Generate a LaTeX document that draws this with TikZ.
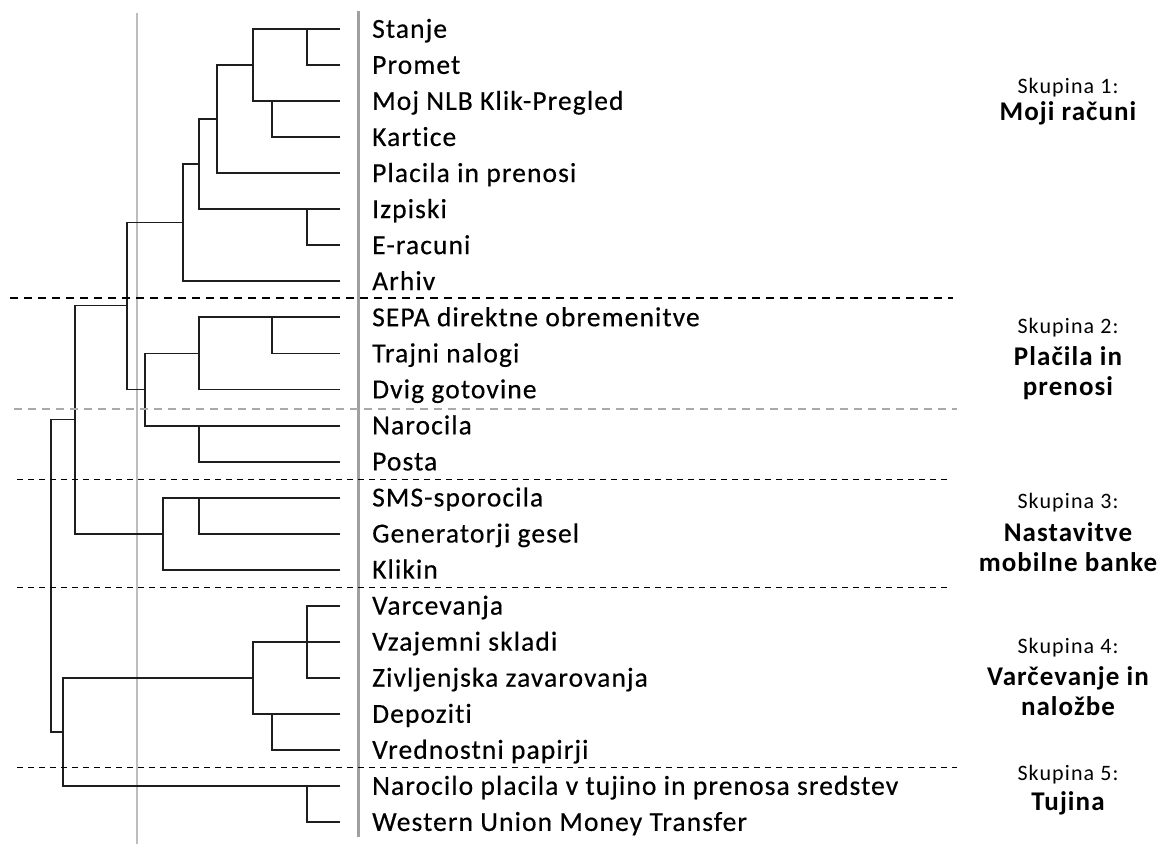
\documentclass[tikz,border=0pt]{standalone}
\usepackage{fontspec}
\setmainfont{Carlito}
\newfontfamily\skfont[LetterSpace=5,Ligatures=NoCommon]{Carlito}
\newfontfamily\leaffont[LetterSpace=4,Ligatures=NoCommon,FakeBold=0.4]{Carlito}
\newfontfamily\grpbfont[LetterSpace=4,Ligatures=NoCommon]{Carlito}
\definecolor{treecol}{HTML}{1E1E1E}
\definecolor{thickgray}{HTML}{A0A0A0}
\definecolor{thingray}{HTML}{BDBDBD}
\definecolor{dashgray}{HTML}{AAAAAA}
\begin{document}
\begin{tikzpicture}[x=1pt,y=-1pt,line cap=butt,
  tree/.style={draw=treecol,line width=1.9pt,line join=miter},
  leaf/.style={anchor=base west,inner sep=0pt,font=\leaffont\fontsize{27.5}{30}\selectfont},
  grp/.style={anchor=base,inner sep=0pt,font=\skfont\fontsize{22}{25}\selectfont},
  grpb/.style={anchor=base,inner sep=0pt,font=\grpbfont\bfseries\fontsize{27}{30}\selectfont},
  sepblack/.style={draw=black,line width=2pt,dash pattern=on 8pt off 6pt},
  septhin/.style={draw=black,line width=1.5pt,dash pattern=on 6pt off 5pt},
  sepgray/.style={draw=dashgray,line width=2pt,dash pattern=on 7.5pt off 6.5pt}]
\useasboundingbox (0,0) rectangle (1165,844);
% guide lines
\draw[draw=thingray,line width=1.5pt] (137,13) -- (137,844);
\draw[draw=thickgray,line width=3pt] (358.3,11) -- (358.3,836.7);
% leaf coordinates
\foreach \i in {0,...,22}{
  \coordinate (L\i) at (340,{29+36.05*\i});
}
% leaf labels
\foreach \t [count=\n from 0] in {Stanje,Promet,Moj NLB Klik-Pregled,Kartice,Placila in prenosi,Izpiski,E-racuni,Arhiv,SEPA direktne obremenitve,Trajni nalogi,Dvig gotovine,Narocila,Posta,SMS-sporocila,Generatorji gesel,Klikin,Varcevanja,Vzajemni skladi,Zivljenjska zavarovanja,Depoziti,Vrednostni papirji,Narocilo placila v tujino in prenosa sredstev,Western Union Money Transfer}{
  \node[leaf] (T\n) at (372,{29+36.05*\n+8.8}) {\t};
}
% cluster A
\draw[tree] (L0) -- (253.3,{29}) |- (L2);
\draw[tree] (L1) -| (306.7,29);
\draw[tree] (L3) -| (271.7,{29+36.05*2});
\draw[tree] (253.3,{29+36.05}) -- (217.3,{29+36.05}) |- (L4);
\draw[tree] (217.3,119) -- (199.3,119) |- (L5);
\draw[tree] (L6) -| (306.7,{29+36.05*5});
\draw[tree] (199.3,164) -- (182.7,164) |- (L7);
\draw[tree] (182.7,222.5) -- (126.7,222.5) -- (126.7,{29+36.05*10}) -- (145,{29+36.05*10});
% cluster B
\draw[tree] (L8) -- (199.3,{29+36.05*8}) |- (L10);
\draw[tree] (L9) -| (271.7,{29+36.05*8});
\draw[tree] (199.3,{29+36.05*9}) -- (145,{29+36.05*9}) |- (L11);
\draw[tree] (L12) -| (199.3,{29+36.05*11});
\draw[tree] (126.7,305.5) -- (75,305.5) |- (162.7,{29+36.05*14});
% cluster C
\draw[tree] (L13) -- (162.7,{29+36.05*13}) |- (L15);
\draw[tree] (L14) -| (199.3,{29+36.05*13});
\draw[tree] (75,419.5) -- (51,419.5) |- (63,731.7);
% cluster D
\draw[tree] (L16) -- (306.7,{29+36.05*16}) |- (L18);
\draw[tree] (L17) -- (253.3,{29+36.05*17}) |- (L19);
\draw[tree] (L20) -| (271.7,{29+36.05*19});
\draw[tree] (253.3,{29+36.05*18}) -- (63,{29+36.05*18}) |- (L21);
\draw[tree] (L22) -| (306.7,{29+36.05*21});
% separators
\draw[sepblack] (10,297.7) -- (953,297.7);
\draw[sepgray] (14,409) -- (957,409);
\draw[septhin] (17,479.3) -- (949,479.3);
\draw[septhin] (17,587.3) -- (949,587.3);
\draw[septhin] (17,767.7) -- (957,767.7);
% group labels
\node[grp]  (g1a) at (1068,93.5) {Skupina 1:};
\node[grpb] (g1b) at (1068,120) {Moji računi};
\node[grp]  (g2a) at (1068,333.3) {Skupina 2:};
\node[grpb] (g2b) at (1068,365) {Plačila in};
\node[grpb] (g2c) at (1068,395) {prenosi};
\node[grp]  (g3a) at (1068,508.3) {Skupina 3:};
\node[grpb] (g3b) at (1068,541.7) {Nastavitve};
\node[grpb] (g3c) at (1068,571.7) {mobilne banke};
\node[grp]  (g4a) at (1068,653.3) {Skupina 4:};
\node[grpb] (g4b) at (1068,685) {Varčevanje in};
\node[grpb] (g4c) at (1068,715) {naložbe};
\node[grp]  (g5a) at (1068,780) {Skupina 5:};
\node[grpb] (g5b) at (1068,810) {Tujina};
\end{tikzpicture}
\end{document}
